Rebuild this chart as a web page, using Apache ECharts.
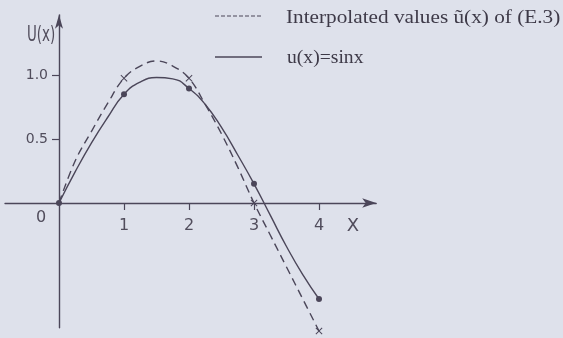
<!DOCTYPE html>
<html>
<head>
<meta charset="utf-8">
<script src="https://cdn.jsdelivr.net/npm/echarts@6/dist/echarts.min.js"></script>
<style>
  html, body { margin: 0; padding: 0; background: #dee1eb; }
  #chart { width: 563px; height: 338px; }
</style>
</head>
<body>
<div id="chart"></div>
<script>
// Sample points along x (step 0.25)
const xs = [0, 0.25, 0.5, 0.75, 1, 1.25, 1.5, 1.75, 2, 2.25, 2.5, 2.75, 3, 3.25, 3.5, 3.75, 4];
// u(x) = sin x
const exactVals = [0, 0.245, 0.47, 0.67, 0.85, 0.945, 0.98, 0.97, 0.895, 0.77, 0.59, 0.375, 0.15, -0.095, -0.34, -0.56, -0.75];
// interpolated values ũ(x)
const interpVals = [0, 0.33, 0.56, 0.78, 0.975, 1.07, 1.11, 1.07, 0.975, 0.77, 0.54, 0.28, 0, -0.25, -0.5, -0.75, -1.0];
// nodes where markers are drawn
const exactNodes = [0, 1, 2, 3, 4];
const interpNodes = [1, 2, 3, 4];
// tick labels
const xTicks = [1, 2, 3, 4];
const yTicks = [0.5, 1.0];

const ink = '#4b4659';
const textInk = '#514d5c';
const crossPath = 'path://M0,1 L1,0 L5,4 L9,0 L10,1 L6,5 L10,9 L9,10 L5,6 L1,10 L0,9 L4,5 Z';

const exactData = xs.map((x, i) => [x, exactVals[i]]);
const interpData = xs.map((x, i) => [x, interpVals[i]]);

// plot area: x from -0.83 to 4.88, y from -0.975 to 1.47
const gridLeft = 5.05, gridTop = 14.84, gridW = 371.15, gridH = 312.96;
const xMin = -0.83, xMax = 4.88, yMin = -0.975, yMax = 1.47;
// shift the axes onto the zero lines
const xAxisOffset = -(gridH * (0 - yMin) / (yMax - yMin));
const yAxisOffset = -(gridW * (0 - xMin) / (xMax - xMin));

const chart = echarts.init(document.getElementById('chart'), null, { renderer: 'canvas' });
chart.setOption({
  backgroundColor: '#dee1eb',
  animation: false,
  grid: { left: gridLeft, top: gridTop, width: gridW, height: gridH, containLabel: false, outerBoundsMode: 'none' },
  xAxis: {
    type: 'value', min: xMin, max: xMax, position: 'bottom', offset: xAxisOffset,
    axisLine: { onZero: false, symbol: ['none', 'arrow'], symbolSize: [7, 14],
      lineStyle: { color: ink, width: 1.4 } },
    axisTick: { show: true, customValues: xTicks, length: 7, lineStyle: { color: ink, width: 1.2 } },
    axisLabel: { show: true, customValues: xTicks, margin: 15, color: textInk,
      fontFamily: 'DejaVu Sans', fontSize: 16 },
    splitLine: { show: false }
  },
  yAxis: {
    type: 'value', min: yMin, max: yMax, position: 'left', offset: yAxisOffset,
    axisLine: { onZero: false, symbol: ['none', 'arrow'], symbolSize: [6, 14],
      lineStyle: { color: ink, width: 1.4 } },
    axisTick: { show: true, customValues: yTicks, length: 7, lineStyle: { color: ink, width: 1.2 } },
    axisLabel: { show: true, customValues: yTicks, margin: 11, color: textInk,
      fontFamily: 'DejaVu Sans', fontSize: 14, formatter: v => v.toFixed(1) },
    splitLine: { show: false }
  },
  series: [
    {
      type: 'line', data: exactData, smooth: 0.5, clip: false,
      lineStyle: { color: ink, width: 1.4 },
      showSymbol: true, showAllSymbol: true,
      symbol: v => exactNodes.includes(v[0]) ? 'circle' : 'none',
      symbolSize: 6,
      itemStyle: { color: ink }
    },
    {
      type: 'line', data: interpData, smooth: 0.4, clip: false,
      lineStyle: { color: ink, width: 1.4, type: [8, 5] },
      showSymbol: true, showAllSymbol: true,
      symbol: v => interpNodes.includes(v[0]) ? crossPath : 'none',
      symbolSize: 7,
      itemStyle: { color: ink }
    }
  ],
  graphic: [
    { type: 'text', x: 27, y: 36, scaleX: 0.64, style: { text: 'U(x)', fill: textInk, font: '21px DejaVu Sans', verticalAlign: 'middle' } },
    { type: 'text', x: 41, y: 218, style: { text: '0', fill: textInk, font: '16px DejaVu Sans', align: 'center', verticalAlign: 'middle' } },
    { type: 'text', x: 353, y: 226, style: { text: 'X', fill: textInk, font: '18px DejaVu Sans', align: 'center', verticalAlign: 'middle' } },
    { type: 'line', shape: { x1: 215, y1: 16, x2: 262, y2: 16 }, style: { stroke: ink, lineWidth: 1.2, lineDash: [4, 2] } },
    { type: 'text', x: 286, y: 18, scaleX: 1.18, style: { text: 'Interpolated values ũ(x) of (E.3)', fill: '#3e3a48',
      font: '18px "Liberation Serif"', verticalAlign: 'middle' } },
    { type: 'line', shape: { x1: 215, y1: 57, x2: 262, y2: 57 }, style: { stroke: ink, lineWidth: 1.5 } },
    { type: 'text', x: 287, y: 58, scaleX: 1.09, style: { text: 'u(x)=sinx', fill: '#3e3a48',
      font: '18px "Liberation Serif"', verticalAlign: 'middle' } }
  ]
});
</script>
</body>
</html>
